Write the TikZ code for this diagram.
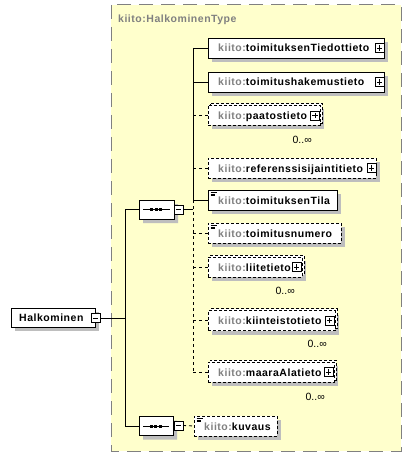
\documentclass[tikz,border=0pt]{standalone}
\usepackage{fontspec}
\setmainfont{Liberation Sans}
\newfontfamily\xf[LetterSpace=5]{Liberation Sans}
\newcommand{\elfont}{\xf\fontsize{10.5pt}{12pt}\selectfont\bfseries}
\usetikzlibrary{shadows,shapes.misc}
\definecolor{bgyellow}{RGB}{255,255,204}
\definecolor{framegray}{RGB}{128,128,128}
\definecolor{shgray}{RGB}{190,190,190}
\definecolor{pfx}{RGB}{128,128,128}
\newcommand{\elname}[1]{{\elfont\textcolor{pfx}{kiito:}#1}}
\tikzset{
  shad/.style={drop shadow={shadow xshift=4pt,shadow yshift=-4pt,fill=shgray,opacity=1}},
  backshad/.style={drop shadow={shadow xshift=2pt,shadow yshift=-6pt,fill=shgray,opacity=1}},
  elbox/.style={draw=black,fill=white,line width=0.8pt,minimum height=20pt,inner sep=0,outer sep=0,anchor=west},
  optbox/.style={elbox,dash pattern=on 3pt off 2pt},
  lbl/.style={anchor=base west,inner sep=0},
  occ/.style={anchor=base east,inner sep=0,font=\fontsize{10.5pt}{12pt}\selectfont},
  conn/.style={line width=0.8pt},
  optconn/.style={conn,dash pattern=on 3pt off 3pt},
  pmbox/.style={draw=black,fill=white,line width=0.7pt,minimum size=9pt,inner sep=0,outer sep=0},
  plusbox/.style={pmbox,path picture={
      \draw[line width=0.8pt] ([xshift=1.8pt]path picture bounding box.west) -- ([xshift=-1.8pt]path picture bounding box.east);
      \draw[line width=0.8pt] ([yshift=-1.8pt]path picture bounding box.north) -- ([yshift=1.8pt]path picture bounding box.south);}},
  minusbox/.style={pmbox,path picture={
      \draw[line width=0.8pt] ([xshift=1.8pt]path picture bounding box.west) -- ([xshift=-1.8pt]path picture bounding box.east);}},
  seqbox/.style={chamfered rectangle,chamfered rectangle sep=5pt,draw=black,fill=white,line width=0.8pt,
      minimum width=35pt,minimum height=19pt,inner sep=0,outer sep=0,anchor=west},
  icon/.style={line width=0.6pt},
}
\begin{document}
\begin{tikzpicture}[x=1pt,y=-1pt]
\useasboundingbox (0,0) rectangle (411,457);
% complex type area
\fill[bgyellow] (111,5) rectangle (401,451);
\draw[framegray,line width=1pt,dash pattern=on 14pt off 8pt] (111,5) rectangle (401,451);
\node[anchor=base west,inner sep=0,text=pfx,font=\elfont] (hdr) at (118,23) {kiito:HalkominenType};

% root element
\node[elbox,shad,minimum width=84pt,minimum height=19pt] (root) at (11,317.5) {};
\node[lbl,font=\elfont] (roott) at (19,321.5) {Halkominen};
\node[minusbox] (rootm) at (95.5,318) {};
\coordinate (rv1) at (125,209.5);
\coordinate (rv2) at (125,318);
\coordinate (rv3) at (125,426);
\draw[conn] (rootm.east) -- (rv2);
\draw[conn] (rv1) -- (rv3);

% sequence 1
\node[seqbox,shad] (seq1) at (139,209.5) {};
\draw[conn] (rv1) -- (seq1.west);
\draw[line width=0.8pt] (143,209.5) -- (170,209.5);
\foreach \dx in {151.5,156,160.5} \fill (\dx-1.5,208) rectangle (\dx+1.5,211);
\node[minusbox] (seq1m) at (178.5,209.5) {};
\coordinate (v1) at (193,209.5);
\draw[conn] (seq1m.east) -- (v1);

% sequence 2
\node[seqbox,shad,minimum width=34pt] (seq2) at (139,426) {};
\draw[conn] (rv3) -- (seq2.west);
\draw[line width=0.8pt] (143,426) -- (169,426);
\foreach \dx in {151,155.5,160} \fill (\dx-1.5,424.5) rectangle (\dx+1.5,427.5);
\node[minusbox] (seq2m) at (178.5,425.5) {};

% child vertical line
\coordinate (c1) at (193,48);
\coordinate (c2) at (193,82);
\coordinate (c3) at (193,115.5);
\coordinate (c4) at (193,168);
\coordinate (c5) at (193,200);
\coordinate (c6) at (193,233);
\coordinate (c7) at (193,267);
\coordinate (c8) at (193,320.5);
\coordinate (c9) at (193,372);
\draw[conn] (c1) -- (c5);
\draw[optconn] (c5) -- (c9);

% 1 toimituksenTiedottieto
\node[elbox,shad,minimum width=176pt] (b1) at (208,48) {};
\node[lbl] (t1) at (218,52) {\elname{toimituksenTiedottieto}};
\node[plusbox] (p1) at (379.5,48) {};
\draw[conn] (c1) -- (b1.west);

% 2 toimitushakemustieto
\node[elbox,shad,minimum width=176pt] (b2) at (208,82) {};
\node[lbl] (t2) at (218,86) {\elname{toimitushakemustieto}};
\node[plusbox] (p2) at (379.5,82) {};
\draw[conn] (c2) -- (b2.west);

% 3 paatostieto (multi)
\node[optbox,backshad,minimum width=112pt] (b3b) at (210,113.5) {};
\node[optbox,minimum width=112pt] (b3) at (208,115.5) {};
\node[lbl] (t3) at (218,119.5) {\elname{paatostieto}};
\node[plusbox] (p3) at (315,115.5) {};
\node[occ] (o3) at (312,143) {0..∞};
\draw[optconn] (c3) -- (b3.west);

% 4 referenssisijaintitieto
\node[optbox,shad,minimum width=168pt] (b4) at (208,168) {};
\node[lbl] (t4) at (218,172) {\elname{referenssisijaintitieto}};
\node[plusbox] (p4) at (371.5,168) {};
\draw[optconn] (c4) -- (b4.west);

% 5 toimituksenTila
\node[elbox,shad,minimum width=129pt] (b5) at (208,200) {};
\node[lbl] (t5) at (218,204) {\elname{toimituksenTila}};
\draw[icon] (210.5,192.3) -- (216.5,192.3) (210.5,194) -- (215,194) (210.5,195.7) -- (215,195.7);
\draw[conn] (c5) -- (b5.west);

% 6 toimitusnumero
\node[optbox,shad,minimum width=133pt] (b6) at (208,233) {};
\node[lbl] (t6) at (218,237) {\elname{toimitusnumero}};
\draw[icon] (210.5,225.3) -- (216.5,225.3) (210.5,227) -- (215,227) (210.5,228.7) -- (215,228.7);
\draw[optconn] (c6) -- (b6.west);

% 7 liitetieto (multi)
\node[optbox,backshad,minimum width=94pt] (b7b) at (210,265) {};
\node[optbox,minimum width=94pt] (b7) at (208,267) {};
\node[lbl] (t7) at (218,271) {\elname{liitetieto}};
\node[plusbox] (p7) at (296.5,267) {};
\node[occ] (o7) at (295,294) {0..∞};
\draw[optconn] (c7) -- (b7.west);

% 8 kiinteistotieto (multi)
\node[optbox,backshad,minimum width=127pt] (b8b) at (210,318.5) {};
\node[optbox,minimum width=127pt] (b8) at (208,320.5) {};
\node[lbl] (t8) at (218,324.5) {\elname{kiinteistotieto}};
\node[plusbox] (p8) at (329.5,320.5) {};
\node[occ] (o8) at (327,347) {0..∞};
\draw[optconn] (c8) -- (b8.west);

% 9 maaraAlatieto (multi)
\node[optbox,backshad,minimum width=126pt] (b9b) at (210,370) {};
\node[optbox,minimum width=126pt] (b9) at (208,372) {};
\node[lbl] (t9) at (218,376) {\elname{maaraAlatieto}};
\node[plusbox] (p9) at (328.5,372) {};
\node[occ] (o9) at (325,400) {0..∞};
\draw[optconn] (c9) -- (b9.west);

% kuvaus
\node[optbox,shad,minimum width=83pt] (bk) at (194,426) {};
\node[lbl] (tk) at (204,430) {\elname{kuvaus}};
\draw[icon] (196.5,418.3) -- (202.5,418.3) (196.5,420) -- (201,420) (196.5,421.7) -- (201,421.7);
\draw[optconn] (seq2m.east) -- (bk.west);
\end{tikzpicture}
\end{document}
